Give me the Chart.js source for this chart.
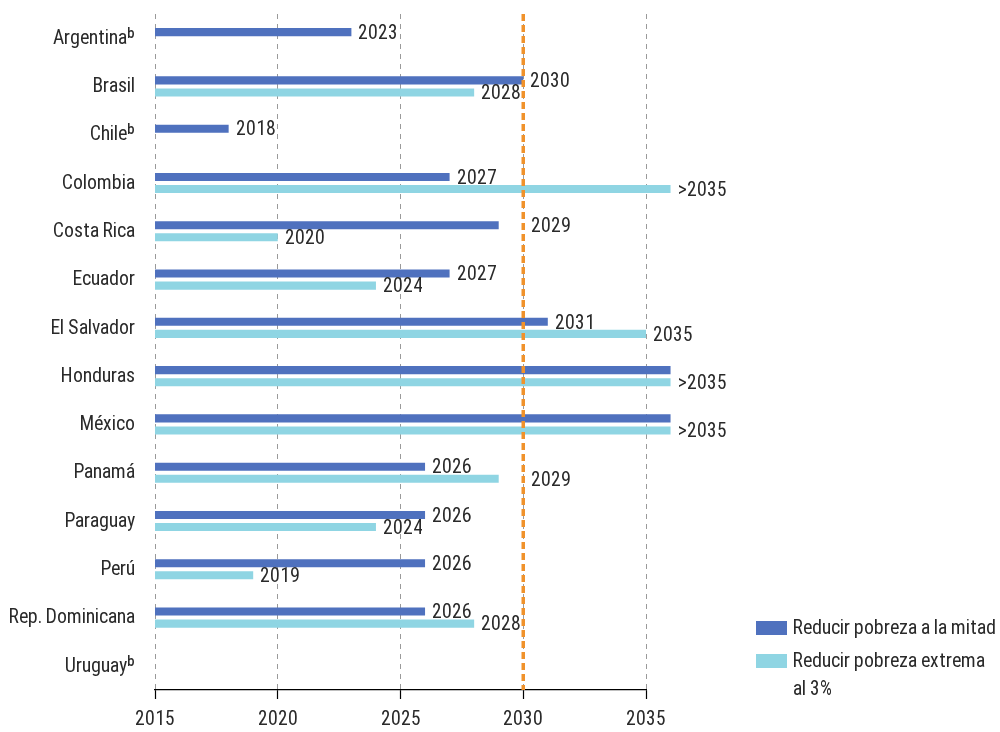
<!DOCTYPE html>
<html>
<head>
<meta charset="utf-8">
<script src="https://cdn.jsdelivr.net/npm/chart.js@4.4.1/dist/chart.umd.min.js"></script>
<style>
  @font-face {
    font-family: "CondFont";
    src: local("Roboto Condensed"), local("RobotoCondensed-Regular"),
         local("Liberation Sans Narrow"), local("LiberationSansNarrow-Regular"),
         local("DejaVu Sans Condensed"), local("DejaVuSansCondensed");
  }
  body { margin: 0; background: #fff; }
  #wrap { position: relative; width: 1000px; height: 732px; }
  .legend { position: absolute; left: 756px; color: #2a2a2a; line-height: 28px; }
  .legend .box { position: absolute; left: 0; top: 7px; width: 31px; height: 14px; }
  .legend .txt { margin-left: 37px; white-space: nowrap; }
</style>
</head>
<body>
<div id="wrap">
  <canvas id="chartCanvas"></canvas>
  <div class="legend" style="top:614px"><span class="box" style="background:#4F71BE"></span><div class="txt">Reducir pobreza a la mitad</div></div>
  <div class="legend" style="top:647px"><span class="box" style="background:#8FD5E3"></span><div class="txt">Reducir pobreza extrema<br>al 3%</div></div>
</div>
<script>
// countries (ᵇ = nota b)
const countries = ["Argentinaᵇ", "Brasil", "Chileᵇ", "Colombia", "Costa Rica", "Ecuador", "El Salvador",
    "Honduras", "México", "Panamá", "Paraguay", "Perú", "Rep. Dominicana", "Uruguayᵇ"];

// year each goal is reached; 2036 stands for ">2035"
const halfPoverty = [2023, 2030, 2018, 2027, 2029, 2027, 2031, 2036, 2036, 2026, 2026, 2026, 2026, null];
const extremePoverty = [null, 2028, null, 2036, 2020, 2024, 2035, 2036, 2036, 2029, 2024, 2019, 2028, null];

const halfLabels = ["2023", "2030", "2018", "2027", "2029", "2027", "2031", "", "", "2026", "2026", "2026", "2026", ""];
const extremeLabels = ["", "2028", "", ">2035", "2020", "2024", "2035", ">2035", ">2035", "2029", "2024", "2019", "2028", ""];

const startYear = 2015;
const targetYear = 2030;
const xTicks = [2015, 2020, 2025, 2030, 2035];

const toRange = arr => arr.map(v => v == null ? null : [startYear, v]);

function build(cond) {
    const FONT = cond ? 'CondFont, Roboto, sans-serif' : 'Roboto, sans-serif';
    const SIZE = cond ? 19.5 : 17;
    const TEXT = '#2a2a2a';
    document.querySelectorAll('.legend').forEach(el => {
        el.style.fontFamily = FONT;
        el.style.fontSize = SIZE + 'px';
    });

    // dashed orange line at the 2030 target + value labels at bar ends
    const overlayPlugin = {
        id: 'overlay',
        afterDatasetsDraw(chart) {
            const ctx = chart.ctx;
            const xs = chart.scales.x;
            const area = chart.chartArea;
            const xT = xs.getPixelForValue(targetYear);

            ctx.save();
            ctx.strokeStyle = '#F0922B';
            ctx.lineWidth = 3.5;
            ctx.setLineDash([7, 4]);
            ctx.beginPath();
            ctx.moveTo(xT, area.top);
            ctx.lineTo(xT, area.bottom);
            ctx.stroke();
            ctx.setLineDash([]);

            ctx.font = SIZE + 'px ' + FONT;
            ctx.fillStyle = TEXT;
            ctx.textBaseline = 'middle';
            const labelSets = [halfLabels, extremeLabels];
            chart.data.datasets.forEach((ds, di) => {
                const meta = chart.getDatasetMeta(di);
                meta.data.forEach((bar, i) => {
                    const txt = labelSets[di][i];
                    if (!txt || ds.data[i] == null) return;
                    let x = bar.x + 7;
                    const w = ctx.measureText(txt).width;
                    // 2029 labels jump over the target line
                    if (ds.data[i][1] < targetYear && x + w > xT + 2) x = xT + 8;
                    ctx.fillText(txt, x, bar.y + 1);
                });
            });
            ctx.restore();
        }
    };

    new Chart(document.getElementById('chartCanvas'), {
        type: 'bar',
        data: {
            labels: countries,
            datasets: [
                {
                    label: 'Reducir pobreza a la mitad',
                    data: toRange(halfPoverty),
                    backgroundColor: '#4F71BE',
                    categoryPercentage: 0.5,
                    barPercentage: 0.67,
                    clip: false
                },
                {
                    label: 'Reducir pobreza extrema al 3%',
                    data: toRange(extremePoverty),
                    backgroundColor: '#8FD5E3',
                    categoryPercentage: 0.5,
                    barPercentage: 0.67,
                    clip: false
                }
            ]
        },
        options: {
            indexAxis: 'y',
            responsive: true,
            maintainAspectRatio: false,
            animation: false,
            layout: { padding: { top: 14, right: 354, left: 0, bottom: 0 } },
            plugins: {
                legend: { display: false },
                tooltip: { enabled: false }
            },
            scales: {
                x: {
                    type: 'linear',
                    min: 2015,
                    max: 2035,
                    afterBuildTicks: s => { s.ticks = xTicks.map(v => ({ value: v })); },
                    afterFit: s => { s.height = 42; s.paddingLeft = 0; s.paddingRight = 0; },
                    border: { display: true, color: '#000', width: 1.2, dash: [5, 5] },
                    grid: {
                        color: '#9a9a9a',
                        lineWidth: 1,
                        drawTicks: true,
                        tickLength: 9,
                        tickColor: '#000',
                        tickWidth: 1.2,
                        tickBorderDash: []
                    },
                    ticks: {
                        padding: 9,
                        color: TEXT,
                        font: { family: FONT, size: SIZE },
                        callback: v => String(v),
                        maxRotation: 0
                    }
                },
                y: {
                    afterFit: s => { s.width = 155; s.paddingTop = 0; s.paddingBottom = 0; },
                    border: { display: false },
                    grid: { display: false },
                    ticks: {
                        padding: 12,
                        color: TEXT,
                        font: { family: FONT, size: SIZE }
                    }
                }
            }
        },
        plugins: [overlayPlugin]
    });
}

document.fonts.load('20px CondFont')
    .then(list => build(list.length > 0))
    .catch(() => build(false));
</script>
</body>
</html>
